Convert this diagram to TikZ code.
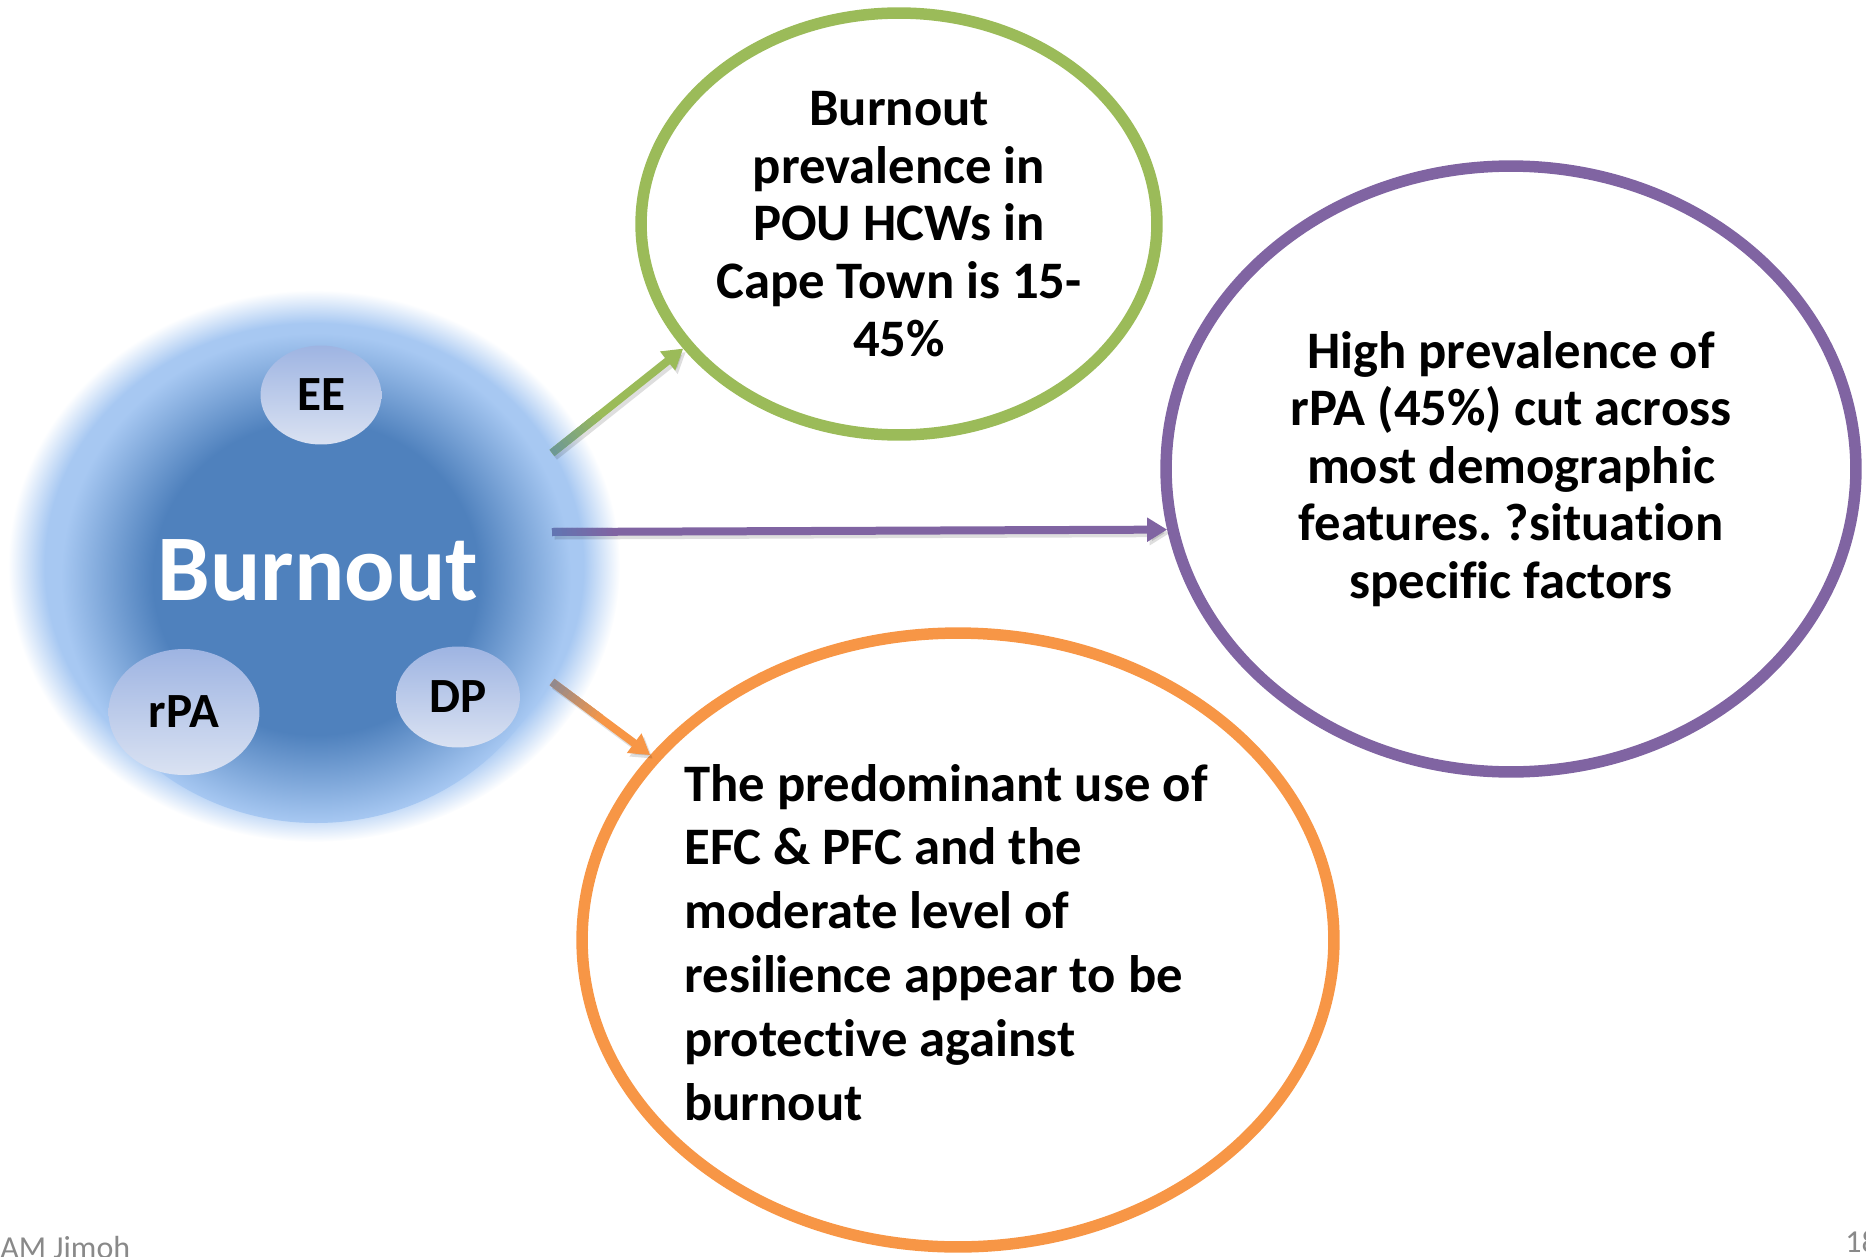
\documentclass[tikz,border=0pt]{standalone}
\usepackage{fontspec}
\setmainfont{Carlito}[Ligatures={NoCommon,NoContextual}]
\usetikzlibrary{arrows.meta,calc,shapes.geometric}
\frenchspacing

\definecolor{bdark}{RGB}{79,129,189}
\definecolor{blight}{RGB}{167,200,242}
\definecolor{ringgreen}{RGB}{155,187,89}
\definecolor{ringpurple}{RGB}{128,100,162}
\definecolor{ringorange}{RGB}{247,150,70}
\definecolor{bubtop}{RGB}{158,180,226}
\definecolor{bubbot}{RGB}{218,226,242}
\definecolor{footgrey}{RGB}{137,137,137}

% soft light-blue halo fading to white at its rim (25bp = rim of the path)
\pgfdeclareradialshading{glowouter}{\pgfpoint{0bp}{0bp}}{color(0bp)=(blight); color(22bp)=(blight); color(25bp)=(white); color(50bp)=(white)}
% dark blue core blending into the halo
\pgfdeclareradialshading{glowcore}{\pgfpoint{0bp}{0bp}}{color(0bp)=(bdark); color(16bp)=(bdark); color(25bp)=(blight); color(50bp)=(blight)}

\tikzset{
  ring/.style={ellipse, inner sep=0pt, line width=0.23cm},
  bubble/.style={ellipse, inner sep=0pt, top color=bubtop, bottom color=bubbot,
    font=\bfseries\fontsize{28}{30}\selectfont},
  txt/.style={inner sep=0pt, font=\bfseries\fontsize{30}{32.8}\selectfont},
  foot/.style={inner sep=0pt, text=footgrey, font=\fontsize{18.2}{20}\selectfont},
  conn/.style={line width=0.16cm, -{Triangle[length=0.4cm,width=0.46cm]}},
  connshadow/.style={conn, black, opacity=0.13, transform canvas={xshift=0.05cm, yshift=-0.07cm}}
}

\begin{document}
\begin{tikzpicture}[x=0.02cm, y=-0.02cm]
\useasboundingbox (0,0) rectangle (1866,1257);
\clip (0,0) rectangle (1866,1257);

% Burnout halo
\shade[shading=glowouter] (314,566) ellipse [x radius=306, y radius=276];
\shade[shading=glowcore] (316,578) ellipse [x radius=255, y radius=245];
\node[font=\bfseries\fontsize{53.5}{60}\selectfont, text=white, inner sep=0pt, anchor=base] (burn) at (318,600) {Burnout};

% the three burnout dimensions
\node[bubble, minimum width=2.42cm, minimum height=1.98cm] (ee) at (321,395) {EE};
\node[bubble, minimum width=3.02cm, minimum height=2.52cm] (rpa) at (184,712) {rPA};
\node[bubble, minimum width=2.48cm, minimum height=2.02cm] (dp) at (458,697) {DP};

% finding ellipses
\node[ring, draw=ringgreen, minimum width=10.32cm, minimum height=8.44cm] (g) at (899,224) {};
\node[ring, draw=ringpurple, minimum width=13.8cm, minimum height=12.12cm] (p) at (1511,469) {};
\node[ring, draw=ringorange, minimum width=15.04cm, minimum height=12.28cm] (o) at (958,940) {};

\node[txt, align=center] (gtxt) at (899,224) {Burnout\\prevalence in\\POU HCWs in\\Cape Town is 15-\\45\%};
\node[txt, align=center] (ptxt) at (1511,469) {High prevalence of\\rPA (45\%) cut across\\most demographic\\features. ?situation\\specific factors};
\node[txt, align=left, font=\bfseries\fontsize{30}{36.3}\selectfont, anchor=base west] (otxt) at (684,1120)
  {The predominant use of\\EFC \& PFC and the\\moderate level of\\resilience appear to be\\protective against\\burnout};

% arrows from the halo to the findings
\coordinate (gs) at (552,453);
\coordinate (ps) at (552,532);
\coordinate (os) at (552,682);

\draw[connshadow] (gs) -- (g.210);
\draw[connshadow] (ps) -- (p.190);
\draw[connshadow] (os) -- (o.149);
\draw[conn, ringgreen] (gs) -- (g.210);
\draw[conn, ringpurple] (ps) -- (p.190);
\draw[conn, ringorange] (os) -- (o.149);

% blue-to-colour blend at the arrow tails
\foreach \s/\e/\c in {gs/g.210/ringgreen, ps/p.190/ringpurple, os/o.149/ringorange}{
  \foreach \i in {0,...,11}{
    \pgfmathsetmacro\ta{\i*0.1}
    \pgfmathsetmacro\tb{\i*0.1+0.11}
    \pgfmathsetmacro\mix{60-\i*5}
    \draw[line width=0.16cm, color=bdark!\mix!\c] ($(\s)!\ta cm!(\e)$) -- ($(\s)!\tb cm!(\e)$);
  }
}

% footer
\node[foot, anchor=base west] (author) at (0,1258) {AM Jimoh};
\node[foot, anchor=base west] (page) at (1845,1252) {18};
\end{tikzpicture}
\end{document}
